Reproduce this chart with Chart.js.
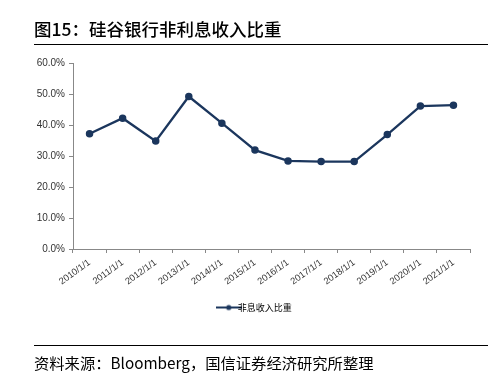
<!DOCTYPE html>
<html><head><meta charset="utf-8">
<script src="https://cdn.jsdelivr.net/npm/chart.js@4"></script>
<style>
html,body{margin:0;padding:0;background:#fff;width:498px;height:376px;overflow:hidden;}
#wrap{position:relative;width:498px;height:376px;}
canvas{position:absolute;left:0;top:0;}
.title{position:absolute;left:34px;top:17px;font-family:"Noto Sans CJK SC";font-size:17.5px;font-weight:500;color:#000;white-space:nowrap;line-height:24px;}
.rule{position:absolute;left:34px;width:454px;height:1px;background:#000;}
.src{position:absolute;left:34px;top:351px;font-family:"Noto Sans CJK SC";font-size:15.3px;color:#000;white-space:nowrap;line-height:22px;}
</style></head>
<body><div id="wrap">
<canvas id="c" width="498" height="376"></canvas>
<div class="title">图15：硅谷银行非利息收入比重</div>
<div class="rule" style="top:44px"></div>
<div class="rule" style="top:345px"></div>
<div class="src">资料来源：Bloomberg，国信证券经济研究所整理</div>
</div>
<script>
const categories = ["2010/1/1","2011/1/1","2012/1/1","2013/1/1","2014/1/1","2015/1/1","2016/1/1","2017/1/1","2018/1/1","2019/1/1","2020/1/1","2021/1/1"];
const seriesName = "非息收入比重";
const seriesValues = [37.2, 42.2, 34.8, 49.2, 40.6, 31.9, 28.4, 28.2, 28.2, 36.9, 46.1, 46.4];
const yTicks = [0, 10, 20, 30, 40, 50, 60];

const navy = "#1B365D";

// legend marker: line with a dot in the middle
const mk = document.createElement("canvas");
mk.width = 26; mk.height = 8;
{
  const g = mk.getContext("2d");
  g.strokeStyle = navy; g.lineWidth = 2;
  g.beginPath(); g.moveTo(0, 4); g.lineTo(26, 4); g.stroke();
  g.fillStyle = navy; g.beginPath(); g.arc(13, 4, 2.6, 0, Math.PI * 2); g.fill();
}

const shiftLegend = {
  id: "shiftLegend",
  afterLayout(chart) { if (chart.legend) chart.legend.left = 46; }
};

new Chart(document.getElementById("c"), {
  type: "line",
  data: {
    labels: categories,
    datasets: [{
      label: seriesName,
      data: seriesValues,
      borderColor: navy,
      backgroundColor: navy,
      borderWidth: 2.3,
      pointRadius: 2.6,
      pointBackgroundColor: navy,
      pointBorderColor: navy,
      tension: 0
    }]
  },
  plugins: [shiftLegend],
  options: {
    responsive: false,
    animation: false,
    layout: { padding: { left: 0, right: 28, top: 63, bottom: 54 } },
    plugins: {
      legend: {
        position: "bottom",
        labels: {
          usePointStyle: true,
          color: "#000",
          font: { family: "Noto Sans CJK SC", size: 9 },
          padding: 4,
          generateLabels(chart) {
            const ds = chart.data.datasets[0];
            return [{ text: ds.label, strokeStyle: navy, fillStyle: navy, lineWidth: 0, pointStyle: mk, hidden: false, datasetIndex: 0 }];
          }
        }
      },
      tooltip: { enabled: false }
    },
    scales: {
      x: {
        offset: true,
        grid: { display: true, drawOnChartArea: false, offset: true, color: "#888", tickLength: 4 },
        border: { color: "#888", width: 1 },
        ticks: { color: "#333", font: { family: "Liberation Sans", size: 9.3 }, maxRotation: 36, minRotation: 36, autoSkip: false, padding: 4 },
        afterFit(s) { s.height = 50; }
      },
      y: {
        min: 0, max: 60,
        afterBuildTicks(s) { s.ticks = yTicks.map(v => ({ value: v })); },
        grid: { display: true, drawOnChartArea: false, color: "#888", tickLength: 4 },
        border: { color: "#888", width: 1 },
        ticks: { color: "#333", font: { family: "Liberation Sans", size: 10 }, padding: 4, callback: v => v.toFixed(1) + "%" },
        afterFit(s) { s.width = 73; }
      }
    }
  }
});
</script>
</body></html>
